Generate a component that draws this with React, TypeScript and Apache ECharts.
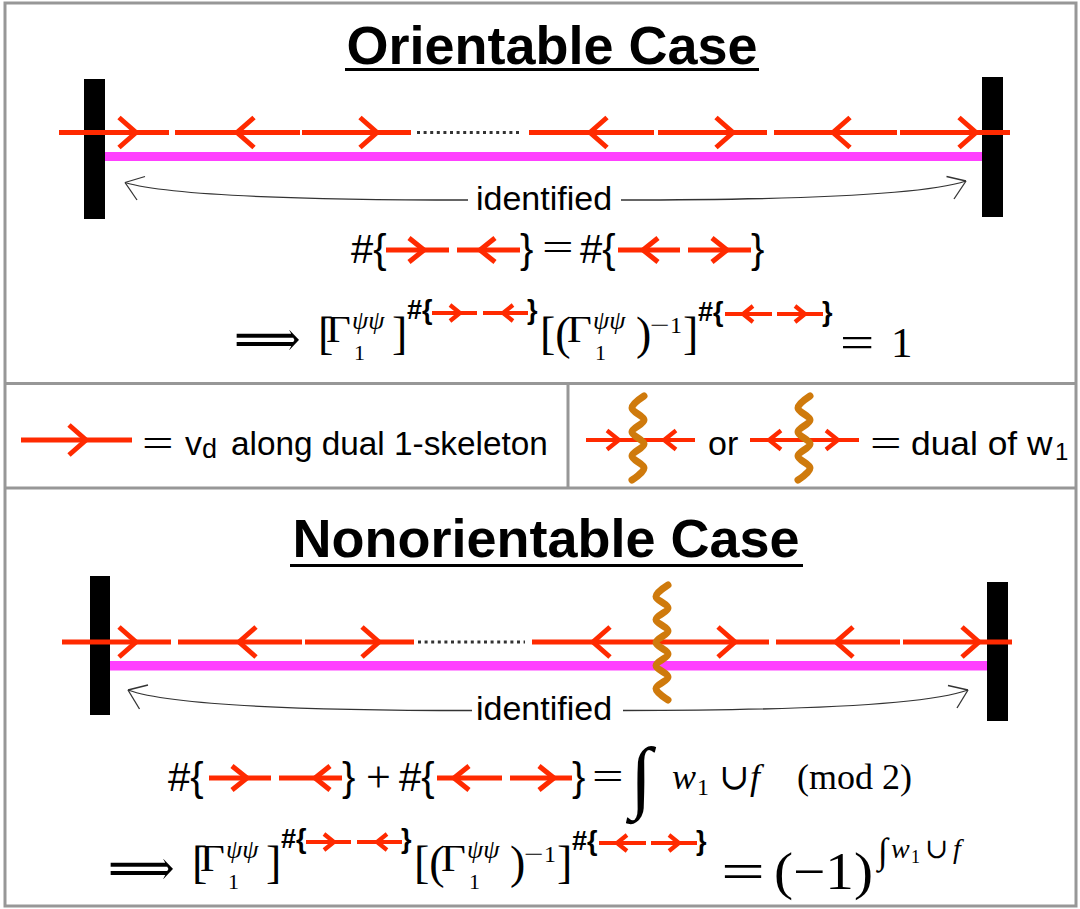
import React, { useEffect, useRef } from 'react';
import * as echarts from 'echarts';

// ---------------- DATA ----------------
const titles = ['Orientable Case', 'Nonorientable Case'];
const arcLabel = 'identified';
// arrow directions along the dual 1-skeleton ('…' = omitted part, '~' = w1 domain wall)
const orientableArrows = ['>', '<', '>', '…', '<', '>', '<', '>'];
const nonorientableArrows = ['>', '<', '>', '…', '<', '~', '>', '<', '>'];
const legendArrow = ['>'];
const legendWallA = ['>', '~', '<'];
const legendWallB = ['<', '~', '>'];
const pairIn = ['>', '<'];
const pairOut = ['<', '>'];
const legendLeftText = ['v', 'd', 'along dual 1-skeleton'];
const legendRightText = ['or', 'dual of w', '1'];

// ---------------- STYLE / LAYOUT ----------------
const RED = '#ff2a00';
const MAGENTA = '#ff40ff';
const ORANGE = '#cf7a0c';
const FRAME = '#979797';
const SANS = "'Liberation Sans', Arial, Helvetica, sans-serif";
const SERIF = "'Liberation Serif', 'Times New Roman', 'DejaVu Serif', serif";

type Sty = { lw: number; h: number; w: number };
const BIG: Sty = { lw: 5, h: 15, w: 17 };
const MID: Sty = { lw: 5, h: 12, w: 15 };
const SMALL: Sty = { lw: 4.2, h: 9.5, w: 12 };
const TINY: Sty = { lw: 4.2, h: 8, w: 10 };

function T(text: string, x: number, y: number, size: number, o: any = {}) {
  return {
    type: 'text',
    x,
    y,
    scaleX: o.sx ?? 1,
    scaleY: o.sy ?? 1,
    z: 20,
    style: {
      text,
      fontSize: size,
      fontFamily: o.family ?? SANS,
      fontWeight: o.weight ?? 'normal',
      fontStyle: o.italic ? 'italic' : 'normal',
      fill: '#000',
      textAlign: o.align ?? 'left',
      textVerticalAlign: 'middle',
    },
  };
}

function L(x1: number, y1: number, x2: number, y2: number, stroke: string, lw: number, extra: any = {}) {
  return { type: 'line', z: extra.z ?? 5, shape: { x1, y1, x2, y2 }, style: { stroke, lineWidth: lw, lineDash: extra.dash, lineCap: extra.cap ?? 'butt' } };
}

function wavy(xc: number, y0: number, y1: number) {
  const n = Math.max(2, Math.round((y1 - y0) / 12));
  const pts: number[][] = [];
  for (let i = 0; i <= n; i++) pts.push([xc + (i % 2 === 0 ? 6 : -6), y0 + ((y1 - y0) * i) / n]);
  return { type: 'polyline', z: 15, shape: { points: pts, smooth: 0.35 }, style: { stroke: ORANGE, lineWidth: 7, lineJoin: 'round', lineCap: 'round', fill: null } };
}

function arrowRow(dirs: string[], pieces: number[][], y: number, s: Sty, wall: number[] = [0, 0]) {
  const els: any[] = [];
  dirs.forEach((d, i) => {
    const p = pieces[i];
    if (d === '…') {
      els.push(L(p[0], y, p[1], y, '#333', 3, { dash: [3, 3.6] }));
    } else if (d === '~') {
      els.push(wavy(p[0], wall[0], wall[1]));
    } else {
      els.push(L(p[0], y, p[1], y, RED, s.lw, { z: 6 }));
      const k = d === '>' ? -1 : 1;
      els.push({
        type: 'polyline',
        z: 6,
        shape: { points: [[p[2] + k * s.w, y - s.h], [p[2], y], [p[2] + k * s.w, y + s.h]] },
        style: { stroke: RED, lineWidth: s.lw, lineJoin: 'miter', fill: null },
      });
    }
  });
  return els;
}

function identifiedArcs(yText: number, left: number[], right: number[]) {
  // [startX, startY, tipX, tipY, wing1x, wing1y, wing2x, wing2y]
  const mk = (a: number[], c1: number[], c2: number[]) => [
    { type: 'bezierCurve', z: 4, shape: { x1: a[0], y1: a[1], x2: a[2], y2: a[3], cpx1: c1[0], cpy1: c1[1], cpx2: c2[0], cpy2: c2[1] }, style: { stroke: '#333', lineWidth: 1.3, fill: null } },
    L(a[2], a[3], a[4], a[5], '#333', 1.3, { z: 4 }),
    L(a[2], a[3], a[6], a[7], '#333', 1.3, { z: 4 }),
  ];
  return [
    ...mk(left, [left[0] - 150, left[1]], [left[2] + 45, left[1] - 4]),
    ...mk(right, [right[0] + 150, right[1]], [right[2] - 45, right[1] - 4]),
    T(arcLabel, 544, yText, 34, { align: 'center' }),
  ];
}

// Γ-line (shared by both implications), shifted by dx, dy
function gammaLine(dx: number, dy: number) {
  const S = SERIF;
  return [
    T('⟹', 234 + dx, 338 + dy, 50, { family: "'DejaVu Serif', 'DejaVu Sans', serif", sx: 0.93 }),
    T('[', 318 + dx, 333.5 + dy, 46, { family: S }),
    T('Γ', 326 + dx, 329.5 + dy, 38, { family: S, sx: 1.13 }),
    T('ψψ', 352 + dx, 320 + dy, 26, { family: S, italic: true }),
    T('1', 354 + dx, 352 + dy, 22, { family: S }),
    T(']', 392 + dx, 333.5 + dy, 46, { family: S }),
    T('#{', 407 + dx, 310 + dy, 27, { weight: 'bold' }),
    ...arrowRow(pairIn, [[432 + dx, 477 + dx, 460 + dx], [483 + dx, 528 + dx, 503 + dx]], 313 + dy, TINY),
    T('}', 527 + dx, 310 + dy, 27, { weight: 'bold' }),
    T('[(', 540 + dx, 333.5 + dy, 46, { family: S }),
    T('Γ', 567 + dx, 329.5 + dy, 38, { family: S, sx: 1.13 }),
    T('ψψ', 593 + dx, 320 + dy, 26, { family: S, italic: true }),
    T('1', 595 + dx, 352 + dy, 22, { family: S }),
    T(')', 636 + dx, 333.5 + dy, 46, { family: S }),
    T('−', 650 + dx, 325 + dy, 24, { family: S, sx: 1.45 }),
    T('1', 670 + dx, 325 + dy, 24, { family: S }),
    T(']', 683 + dx, 333.5 + dy, 46, { family: S }),
    T('#{', 698 + dx, 312 + dy, 27, { weight: 'bold' }),
    ...arrowRow(pairOut, [[725 + dx, 772 + dx, 743 + dx], [777 + dx, 823 + dx, 805 + dx]], 314 + dy, TINY),
    T('}', 822 + dx, 312 + dy, 27, { weight: 'bold' }),
  ];
}

function buildGraphics() {
  const els: any[] = [];
  // frame
  els.push({ type: 'rect', z: 1, shape: { x: 5, y: 3, width: 1071, height: 903 }, style: { fill: null, stroke: FRAME, lineWidth: 3 } });
  els.push(L(5, 383.5, 1076, 383.5, FRAME, 3, { z: 1 }));
  els.push(L(5, 488, 1076, 488, FRAME, 3, { z: 1 }));
  els.push(L(568, 383.5, 568, 488, FRAME, 3, { z: 1 }));

  // ---------- Orientable ----------
  els.push(T(titles[0], 552, 44.5, 54, { align: 'center', weight: 'bold' }));
  els.push(L(345, 69.5, 759, 69.5, '#000', 3));
  els.push({ type: 'rect', z: 3, shape: { x: 84, y: 79, width: 21, height: 140 }, style: { fill: '#000' } });
  els.push({ type: 'rect', z: 3, shape: { x: 982, y: 77, width: 21, height: 140 }, style: { fill: '#000' } });
  els.push({ type: 'rect', z: 2, shape: { x: 105, y: 152, width: 877, height: 9 }, style: { fill: MAGENTA } });
  els.push(
    ...arrowRow(
      orientableArrows,
      [[59, 169, 136], [175, 300, 237], [302, 411, 377], [417, 520], [529, 654, 590], [658, 767, 733], [774, 897, 833], [900, 1010, 976]],
      132.5,
      BIG
    )
  );
  els.push(...identifiedArcs(198, [468, 200, 125, 182.5, 145, 176.5, 137, 200], [621, 200, 966, 181, 946.5, 176.5, 954, 199]));

  // #{→ ←} = #{← →}
  els.push(T('#{', 351, 249, 40));
  els.push(...arrowRow(pairIn, [[386, 449, 424], [457, 520, 480]], 250, MID));
  els.push(T('}', 520, 249, 40));
  els.push(T('=', 542, 248, 40, { family: SERIF, sx: 1.4 }));
  els.push(T('#{', 580, 249, 40));
  els.push(...arrowRow(pairOut, [[618, 680, 643], [688, 751, 727]], 250, MID));
  els.push(T('}', 751, 249, 40));

  // implication line 1
  els.push(...gammaLine(0, 0));
  els.push(T('=', 840, 342.5, 44, { family: SERIF, sx: 1.38 }));
  els.push(T('1', 891, 342.5, 43, { family: SERIF }));

  // ---------- Legend ----------
  els.push(...arrowRow(legendArrow, [[21, 132, 86]], 440, BIG));
  els.push(T('=', 142, 444, 40, { family: SERIF, sx: 1.4 }));
  els.push(T(legendLeftText[0], 185, 443.2, 34));
  els.push(T(legendLeftText[1], 202, 449, 27));
  els.push(T(legendLeftText[2], 231, 443.2, 34, { sx: 0.98 }));

  els.push(...arrowRow(legendWallA, [[586, 638, 619], [638], [638, 695, 664]], 440, SMALL, [396, 480]));
  els.push(T(legendRightText[0], 708, 443.2, 34));
  els.push(...arrowRow(legendWallB, [[750, 804, 769], [804], [804, 859, 838]], 440, SMALL, [396, 480]));
  els.push(T('=', 870, 444, 40, { family: SERIF, sx: 1.4 }));
  els.push(T(legendRightText[1], 911, 443.2, 34, { sx: 1.04 }));
  els.push(T(legendRightText[2], 1055, 451.5, 24));

  // ---------- Nonorientable ----------
  els.push(T(titles[1], 546, 537.5, 54, { align: 'center', weight: 'bold' }));
  els.push(L(290, 565.5, 803, 565.5, '#000', 3));
  els.push({ type: 'rect', z: 3, shape: { x: 90, y: 576, width: 20, height: 139 }, style: { fill: '#000' } });
  els.push({ type: 'rect', z: 3, shape: { x: 987, y: 582, width: 21, height: 139 }, style: { fill: '#000' } });
  els.push({ type: 'rect', z: 2, shape: { x: 110, y: 661, width: 877, height: 9.5 }, style: { fill: MAGENTA } });
  els.push(
    ...arrowRow(
      nonorientableArrows,
      [[62, 171, 136], [178, 302, 239], [305, 414, 379], [418, 525], [532, 662, 593], [662], [662, 769, 735], [776, 900, 836], [903, 1012, 979]],
      642,
      BIG,
      [585, 700]
    )
  );
  els.push(...identifiedArcs(708, [472, 710.5, 128, 690, 148, 685, 139.5, 709], [623, 710.5, 968, 690, 948, 685.5, 957, 708]));

  // #{→ ←} + #{← →} = ∫ w1 ∪ f (mod 2)
  els.push(T('#{', 168, 777, 40));
  els.push(...arrowRow(pairIn, [[209, 271, 247], [279, 342, 315]], 778, MID));
  els.push(T('}', 342, 777, 40));
  els.push(T('+', 366, 777, 44, { family: SERIF }));
  els.push(T('#{', 399, 777, 40));
  els.push(...arrowRow(pairOut, [[437, 502, 454], [510, 572, 554]], 778, MID));
  els.push(T('}', 572, 777, 40));
  els.push(T('=', 592, 777, 40, { family: SERIF, sx: 1.4 }));
  els.push(T('∫', 630, 776, 80, { family: SERIF }));
  els.push(T('w', 672, 776.5, 36, { family: SERIF, italic: true }));
  els.push(T('1', 697, 786.5, 24, { family: SERIF }));
  els.push(T('∪', 719, 776.5, 36, { family: SERIF }));
  els.push(T('f', 750, 776.5, 36, { family: SERIF, italic: true }));
  els.push(T('(mod 2)', 797, 776.5, 36, { family: SERIF }));

  // implication line 2
  els.push(...gammaLine(-126, 529));
  els.push(T('=', 721, 871, 52, { family: SERIF, sx: 1.5 }));
  els.push(T('(−1)', 774, 871, 52, { family: SERIF, sx: 1.1 }));
  els.push(T('∫', 878, 851, 36, { family: SERIF }));
  els.push(T('w', 891, 848, 28, { family: SERIF, italic: true }));
  els.push(T('1', 911, 857, 18, { family: SERIF }));
  els.push(T('∪', 925, 848, 28, { family: SERIF }));
  els.push(T('f', 953, 848, 28, { family: SERIF, italic: true }));

  return els;
}

export default function App() {
  const ref = useRef<HTMLDivElement>(null);
  useEffect(() => {
    if (!ref.current) return;
    const chart = echarts.init(ref.current, undefined, { renderer: 'svg' });
    chart.setOption({
      animation: false,
      backgroundColor: '#ffffff',
      graphic: { elements: buildGraphics() },
    });
    return () => chart.dispose();
  }, []);
  return <div ref={ref} style={{ position: 'absolute', left: 0, top: 0, width: 1080, height: 909 }} />;
}
